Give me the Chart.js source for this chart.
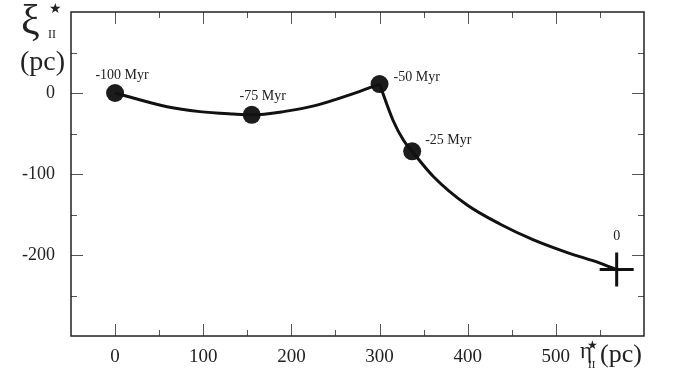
<!DOCTYPE html>
<html>
<head>
<meta charset="utf-8">
<script src="https://cdn.jsdelivr.net/npm/chart.js@4/dist/chart.umd.min.js"></script>
<style>
  html, body { margin: 0; padding: 0; background: #fff; }
  #wrap { width: 678px; height: 378px; }
</style>
</head>
<body>
<div id="wrap"><canvas id="orbitChart" width="678" height="378"></canvas></div>
<script>
// orbit track (pc)
var trackAx = [0, 59, 96, 134, 155, 191, 229, 267, 300];
var trackAy = [0, -17, -23, -26, -27, -23, -15, -2, 11];
var trackBx = [300, 315, 327, 337, 361, 399, 437, 474, 513, 550, 569];
var trackBy = [11, -33, -58, -72, -103, -138, -162, -181, -197, -210, -218];

// epochs marked on the track
var epochX = [0, 155, 300, 337];
var epochY = [0, -27, 11, -72];
var epochLabels = ['-100 Myr', '-75 Myr', '-50 Myr', '-25 Myr'];
var nowX = [569];
var nowY = [-218];
var nowLabels = ['0'];

var xTickLabels = [0, 100, 200, 300, 400, 500];
var yTickLabels = [0, -100, -200];

function pts(xs, ys) {
	var out = [];
	for (var i = 0; i < xs.length; i++) out.push({ x: xs[i], y: ys[i] });
	return out;
}

var serif = '"Liberation Serif", "DejaVu Serif", serif';

// inward ticks on all four sides, plus the frame
var frameTicks = {
	id: 'frameTicks',
	afterDatasetsDraw: function(chart) {
		var c = chart.ctx, a = chart.chartArea;
		var xs = chart.scales.x, ys = chart.scales.y;
		c.save();
		c.strokeStyle = '#555';
		c.lineWidth = 1;
		xs.ticks.forEach(function(t) {
			var px = Math.round(xs.getPixelForValue(t.value)) + 0.5;
			if (px <= a.left + 1 || px >= a.right - 1) return;
			var len = (t.value % 100 === 0) ? 12 : 6;
			c.beginPath();
			c.moveTo(px, a.bottom); c.lineTo(px, a.bottom - len);
			c.moveTo(px, a.top); c.lineTo(px, a.top + len);
			c.stroke();
		});
		ys.ticks.forEach(function(t) {
			var py = Math.round(ys.getPixelForValue(t.value)) + 0.5;
			if (py <= a.top + 1 || py >= a.bottom - 1) return;
			var len = (t.value % 100 === 0) ? 12 : 6;
			c.beginPath();
			c.moveTo(a.left, py); c.lineTo(a.left + len, py);
			c.moveTo(a.right, py); c.lineTo(a.right - len, py);
			c.stroke();
		});
		c.strokeStyle = '#222';
		c.lineWidth = 1.5;
		c.strokeRect(a.left, a.top, a.right - a.left, a.bottom - a.top);
		c.restore();
	}
};

// point labels and axis titles
var textLayer = {
	id: 'textLayer',
	afterDraw: function(chart) {
		var c = chart.ctx;
		var xs = chart.scales.x, ys = chart.scales.y;
		c.save();
		c.fillStyle = '#222';
		c.textBaseline = 'middle';
		c.font = '14px ' + serif;
		var offs = [[7, -18, 'center'], [11, -19, 'center'], [14, -7, 'left'], [13, -11, 'left']];
		for (var i = 0; i < epochLabels.length; i++) {
			c.textAlign = offs[i][2];
			c.fillText(epochLabels[i], xs.getPixelForValue(epochX[i]) + offs[i][0], ys.getPixelForValue(epochY[i]) + offs[i][1]);
		}
		c.textAlign = 'center';
		c.fillText(nowLabels[0], xs.getPixelForValue(nowX[0]), ys.getPixelForValue(nowY[0]) - 33);

		// y title
		c.textAlign = 'left';
		c.textBaseline = 'alphabetic';
		c.font = '42px ' + serif;
		c.fillText('\u03BE', 21, 34);
		c.font = '12px ' + serif;
		c.fillText('II', 48, 38);
		c.font = '14px "DejaVu Sans", sans-serif';
		c.fillText('\u2605', 49, 13);
		c.font = '28px ' + serif;
		c.fillText('(pc)', 20, 70);

		// x title
		c.font = '23px ' + serif;
		c.fillText('\u03B7', 580, 358);
		c.font = '11px ' + serif;
		c.fillText('II', 588, 368);
		c.font = '12px "DejaVu Sans", sans-serif';
		c.fillText('\u2605', 587, 349);
		c.font = '26px ' + serif;
		c.fillText('(pc)', 600, 362);
		c.restore();
	}
};

new Chart(document.getElementById('orbitChart'), {
	type: 'scatter',
	data: {
		datasets: [
			{
				data: pts(trackAx, trackAy),
				showLine: true,
				borderColor: '#111',
				borderWidth: 3,
				pointRadius: 0,
				cubicInterpolationMode: 'monotone',
				fill: false
			},
			{
				data: pts(trackBx, trackBy),
				showLine: true,
				borderColor: '#111',
				borderWidth: 3,
				pointRadius: 0,
				cubicInterpolationMode: 'monotone',
				fill: false
			},
			{
				data: pts(epochX, epochY),
				pointRadius: 9,
				pointBackgroundColor: '#1c1c1c',
				pointBorderColor: '#1c1c1c',
				pointBorderWidth: 0
			},
			{
				data: pts(nowX, nowY),
				pointStyle: 'cross',
				pointRadius: 17,
				pointBorderColor: '#111',
				pointBorderWidth: 3
			}
		]
	},
	options: {
		responsive: false,
		animation: false,
		layout: { autoPadding: false, padding: { top: 12, right: 34, left: 0, bottom: 0 } },
		plugins: {
			legend: { display: false },
			tooltip: { enabled: false }
		},
		scales: {
			x: {
				type: 'linear',
				min: -50,
				max: 600,
				grid: { display: false },
				border: { display: false },
				afterFit: function(s) { s.height = 42; },
				ticks: {
					stepSize: 50,
					autoSkip: false,
					maxRotation: 0,
					padding: 2,
					color: '#222',
					font: { family: serif, size: 19 },
					callback: function(v) { return xTickLabels.indexOf(v) >= 0 ? String(v) : ''; }
				}
			},
			y: {
				type: 'linear',
				min: -300,
				max: 100,
				grid: { display: false },
				border: { display: false },
				afterFit: function(s) { s.width = 71; s.paddingTop = 0; s.paddingBottom = 0; },
				ticks: {
					stepSize: 50,
					autoSkip: false,
					padding: 8,
					color: '#222',
					font: { family: serif, size: 18 },
					callback: function(v) { return yTickLabels.indexOf(v) >= 0 ? String(v) : ''; }
				}
			}
		}
	},
	plugins: [frameTicks, textLayer]
});
</script>
</body>
</html>
